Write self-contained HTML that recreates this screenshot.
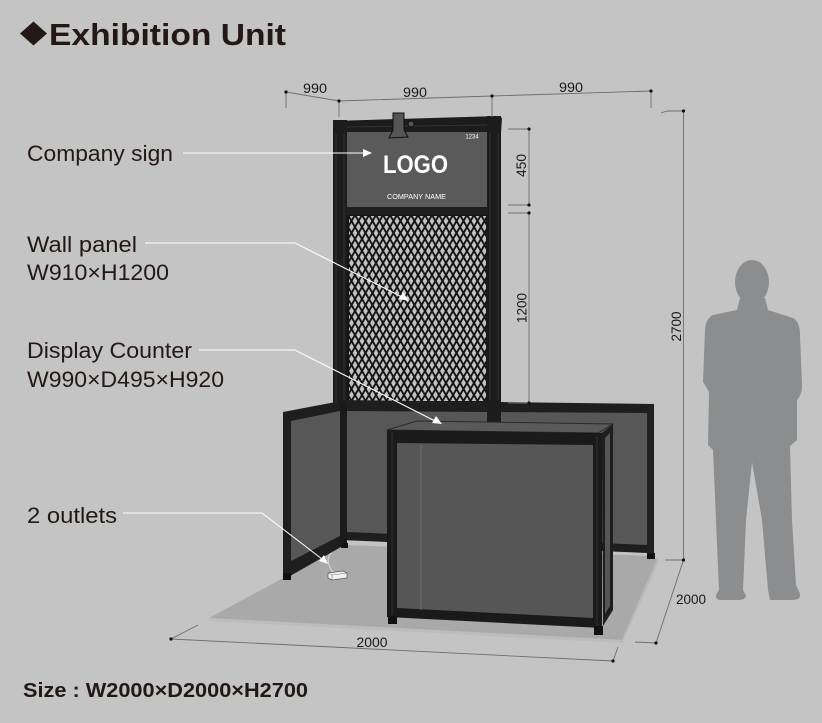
<!DOCTYPE html>
<html><head><meta charset="utf-8"><style>
html,body{margin:0;padding:0;background:#c4c4c4;}
svg{display:block;}
text{font-family:"Liberation Sans",sans-serif;}
</style></head><body>
<svg width="822" height="723" viewBox="0 0 822 723" xmlns="http://www.w3.org/2000/svg">
<defs>
<pattern id="mesh" x="348" y="215" width="7" height="12" patternUnits="userSpaceOnUse">
<rect width="7" height="12" fill="#c2c2c2"/>
<path d="M0 0 L3.5 6 L0 12 M7 0 L3.5 6 L7 12" stroke="#141414" stroke-width="1.9" fill="none"/>
</pattern>
</defs>
<rect width="822" height="723" fill="#c4c4c4"/>

<!-- Title -->
<polygon points="20,33.5 33.5,21.5 47,33.5 33.5,45.5" fill="#231815"/>
<text x="49" y="45" font-size="31" font-weight="bold" fill="#231815" textLength="237" lengthAdjust="spacingAndGlyphs">Exhibition Unit</text>

<!-- Floor -->
<polygon points="209,618 287,576 345,545 652,556 657,559 622,640" fill="#a9a9aa"/>
<polygon points="209,618 622,640 622,643 209,621" fill="#bcbcbc"/>
<polygon points="657,559 622,640 622,643 659,561" fill="#b8b8b8"/>

<!-- outlet cable -->
<path d="M345 546 Q 330 548 328 560 Q 329 568 333 572" stroke="#dcdcdc" stroke-width="1" fill="none"/>

<!-- main frame pillars -->
<rect x="333" y="120" width="14" height="427" fill="#1c1c1c"/>
<line x1="336" y1="124" x2="336" y2="545" stroke="#333" stroke-width="1"/>
<line x1="344" y1="124" x2="344" y2="545" stroke="#333" stroke-width="1"/>
<rect x="487" y="116" width="14" height="430" fill="#1c1c1c"/>
<line x1="490" y1="120" x2="490" y2="540" stroke="#333" stroke-width="1"/>
<line x1="498" y1="120" x2="498" y2="540" stroke="#333" stroke-width="1"/>
<!-- top bar -->
<polygon points="333,121 499,116 502,118 501,133 333,134" fill="#1c1c1c"/>
<line x1="347" y1="127" x2="487" y2="125" stroke="#333" stroke-width="1"/>
<!-- sign -->
<rect x="347" y="132" width="140" height="75" fill="#5a5a5a"/>
<rect x="347" y="207" width="140" height="8" fill="#1e1e1e"/>
<text x="472" y="138.5" font-size="6" fill="#fff" text-anchor="middle">1234</text>
<text x="383" y="173" font-size="25" font-weight="bold" fill="#fff" textLength="65" lengthAdjust="spacingAndGlyphs">LOGO</text>
<text x="416.5" y="199" font-size="7.5" fill="#fff" text-anchor="middle" textLength="59" lengthAdjust="spacingAndGlyphs">COMPANY NAME</text>
<!-- clamp -->
<path d="M393 113 L404 113 L404 130 L408 137 L389 138 L393 130 Z" fill="#555" stroke="#111" stroke-width="1"/>
<circle cx="411" cy="124" r="3" fill="#555" stroke="#111" stroke-width="1"/>
<!-- mesh -->
<rect x="347" y="215" width="140" height="187" fill="#151515"/>
<rect x="349" y="216" width="137" height="185" fill="url(#mesh)"/>

<!-- back wall -->
<polygon points="341,400 654,404 654,556 647,556 647,553 341,540" fill="#1e1e1e"/>
<polygon points="347,411 647,413 647,545 347,532" fill="#575757"/>
<!-- right main pillar over back wall -->
<rect x="487" y="400" width="14" height="30" fill="#1c1c1c"/>
<!-- right end pillar -->
<rect x="647" y="404" width="7" height="152" fill="#222"/>
<rect x="647" y="553" width="8" height="6" fill="#111"/>

<!-- left side panel -->
<polygon points="283,412 341,401 347,402 347,547 341,547 283,580" fill="#1e1e1e"/>
<polygon points="291,421 340,411 340,536 291,561" fill="#575757"/>
<rect x="340" y="402" width="7" height="145" fill="#1a1a1a"/>
<rect x="283" y="573" width="8" height="7" fill="#111"/>
<rect x="341" y="543" width="7" height="5" fill="#111"/>

<!-- counter -->
<polygon points="387,430 417,421 613,424 598,433" fill="#5a5a5a" stroke="#2a2a2a" stroke-width="1"/>
<polygon points="602,433 613,424 613,610 603,626" fill="#1e1e1e"/>
<polygon points="605,438 610,433 610,606 605,614" fill="#555"/>
<polygon points="387,430 602,433 602,628 387,617" fill="#1a1a1a"/>
<polygon points="397,443 593,445 593,618 397,608" fill="#565656"/>
<line x1="421" y1="445" x2="421" y2="610" stroke="#707070" stroke-width="1"/>
<line x1="392" y1="432" x2="392" y2="615" stroke="#333" stroke-width="1"/>
<line x1="597" y1="436" x2="597" y2="626" stroke="#333" stroke-width="1"/>
<rect x="388" y="616" width="9" height="8" fill="#111"/>
<rect x="594" y="626" width="9" height="9" fill="#111"/>

<!-- outlet box -->
<polygon points="328,573 343,571 347,573 347,578 332,580 328,578" fill="#f2f2f2" stroke="#555" stroke-width="0.7"/>
<line x1="328" y1="573" x2="332" y2="575" stroke="#777" stroke-width="0.6"/>
<line x1="332" y1="575" x2="347" y2="573" stroke="#777" stroke-width="0.6"/>
<line x1="332" y1="575" x2="332" y2="580" stroke="#777" stroke-width="0.6"/>

<!-- leader lines -->
<g stroke="#ffffff" stroke-width="1.1" fill="none">
<polyline points="183,153 364,153"/>
<polyline points="145,243 295,243 402,297"/>
<polyline points="199,350 295,350 435,421"/>
<polyline points="123,513 262,513 322,559"/>
</g>
<g fill="#ffffff">
<polygon points="372,153 363,149 363,157"/>
<polygon points="409,301 399,299 403,292"/>
<polygon points="442,424 432,423 436,416"/>
<polygon points="328,564 319,561 324,555"/>
</g>

<!-- labels -->
<g fill="#231815" font-size="22">
<text x="27" y="161" textLength="146" lengthAdjust="spacingAndGlyphs">Company sign</text>
<text x="27" y="252" textLength="110" lengthAdjust="spacingAndGlyphs">Wall panel</text>
<text x="27" y="280" textLength="142" lengthAdjust="spacingAndGlyphs">W910×H1200</text>
<text x="27" y="358" textLength="165" lengthAdjust="spacingAndGlyphs">Display Counter</text>
<text x="27" y="387" textLength="197" lengthAdjust="spacingAndGlyphs">W990×D495×H920</text>
<text x="27" y="523" textLength="90" lengthAdjust="spacingAndGlyphs">2 outlets</text>
</g>
<text x="23" y="697" font-size="20" font-weight="bold" fill="#231815" textLength="285" lengthAdjust="spacingAndGlyphs">Size : W2000×D2000×H2700</text>

<!-- dimension lines -->
<g stroke="#6e6e6e" stroke-width="0.9" fill="none">
<polyline points="286,92 339,101 492,96 651,91"/>
<line x1="286" y1="92" x2="286" y2="108"/>
<line x1="339" y1="101" x2="339" y2="117"/>
<line x1="492" y1="96" x2="492" y2="117"/>
<line x1="651" y1="91" x2="651" y2="108"/>
<line x1="529" y1="129" x2="529" y2="205"/>
<line x1="508" y1="129" x2="529" y2="129"/>
<line x1="508" y1="205" x2="529" y2="205"/>
<line x1="529" y1="213" x2="529" y2="403"/>
<line x1="508" y1="213" x2="529" y2="213"/>
<line x1="508" y1="403" x2="529" y2="403"/>
<line x1="683.5" y1="111" x2="683.5" y2="560"/>
<polyline points="661,113 667,111 683.5,111"/>
<line x1="665" y1="560" x2="683.5" y2="560"/>
<line x1="171" y1="639" x2="613" y2="661"/>
<line x1="171" y1="639" x2="198" y2="625"/>
<line x1="613" y1="661" x2="618" y2="647"/>
<line x1="683.5" y1="560" x2="656" y2="643"/>
<line x1="635" y1="642" x2="656" y2="643"/>
</g>
<g fill="#111">
<circle cx="286" cy="92" r="1.6"/><circle cx="339" cy="101" r="1.6"/>
<circle cx="492" cy="96" r="1.6"/><circle cx="651" cy="91" r="1.6"/>
<circle cx="529" cy="129" r="1.6"/><circle cx="529" cy="205" r="1.6"/>
<circle cx="529" cy="213" r="1.6"/><circle cx="529" cy="403" r="1.6"/>
<circle cx="683.5" cy="111" r="1.6"/><circle cx="683.5" cy="560" r="1.6"/>
<circle cx="171" cy="639" r="1.6"/><circle cx="613" cy="661" r="1.6"/>
<circle cx="656" cy="643" r="1.6"/>
</g>
<g fill="#1a1a1a" font-size="14">
<text x="315" y="93" text-anchor="middle" textLength="24" lengthAdjust="spacingAndGlyphs">990</text>
<text x="415" y="97" text-anchor="middle" textLength="24" lengthAdjust="spacingAndGlyphs">990</text>
<text x="571" y="92" text-anchor="middle" textLength="24" lengthAdjust="spacingAndGlyphs">990</text>
<text x="372" y="647" text-anchor="middle" textLength="31" lengthAdjust="spacingAndGlyphs">2000</text>
<text x="691" y="604" text-anchor="middle" textLength="30" lengthAdjust="spacingAndGlyphs">2000</text>
<text transform="translate(526,165.5) rotate(-90)" text-anchor="middle" textLength="23" lengthAdjust="spacingAndGlyphs">450</text>
<text transform="translate(526.5,308) rotate(-90)" text-anchor="middle" textLength="30" lengthAdjust="spacingAndGlyphs">1200</text>
<text transform="translate(681,326.5) rotate(-90)" text-anchor="middle" textLength="30" lengthAdjust="spacingAndGlyphs">2700</text>
</g>

<!-- person silhouette -->
<g fill="#8c8d8e">
<ellipse cx="752" cy="282" rx="17" ry="22"/>
<path d="M740 298 L765 298 L768 310 L793 318 Q800 322 800 335 L802 385 Q802 395 797 400 L797 440 L790 446 L792 520 L796 585 L800 594 Q801 600 792 600 L770 600 L768 590 L762 520 L752 462 L746 520 L743 590 L746 596 Q745 600 738 600 L719 600 Q713 598 719 590 L716 520 L713 450 L708 445 L709 392 L703 382 L705 330 Q706 318 713 315 L737 310 Z"/>
</g>
</svg>
</body></html>
